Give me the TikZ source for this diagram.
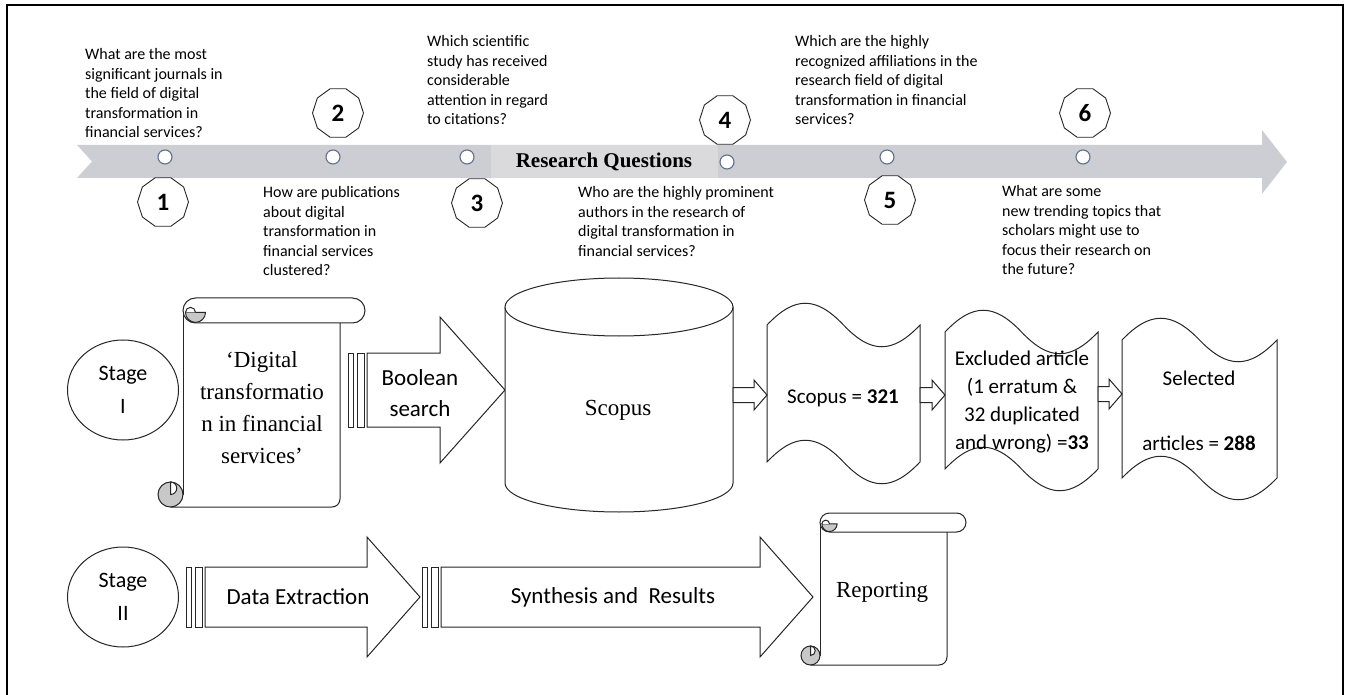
\documentclass[tikz,border=0pt]{standalone}
\usepackage{fontspec}
\setmainfont{Liberation Serif}
\newfontfamily\calibri{Carlito}
\usetikzlibrary{shapes.geometric,calc}

\definecolor{bandgray}{RGB}{205,206,211}
\definecolor{labelgray}{RGB}{218,218,220}
\definecolor{markerblue}{RGB}{95,112,140}
\definecolor{curlgray}{RGB}{200,200,200}

% block arrow between two named points
\newcommand{\fatarrow}[2]{%
  \draw[outline, fill=white] let \p1=(#1), \p2=(#2) in
    (\x1,\y1+7.5pt) -- (\x2-13pt,\y1+7.5pt) -- (\x2-13pt,\y1+15pt) -- (\x2,\y1) --
    (\x2-13pt,\y1-15pt) -- (\x2-13pt,\y1-7.5pt) -- (\x1,\y1-7.5pt) -- cycle;}

% striped arrow: x0, head base, tip, centre y, shaft half, head half
\newcommand{\stripedarrow}[6]{%
  \draw[outline, fill=white] (#1,#4-#5) rectangle (#1+5,#4+#5);
  \draw[outline, fill=white] (#1+9,#4-#5) rectangle (#1+16,#4+#5);
  \draw[outline, fill=white] (#1+19,#4-#5) -- (#2,#4-#5) -- (#2,#4-#6) -- (#3,#4)
    -- (#2,#4+#6) -- (#2,#4+#5) -- (#1+19,#4+#5) -- cycle;}

% scroll: left, right, top, bottom, roll radius
\newcommand{\scrollshape}[5]{%
  \fill[white] (#1,#3+#5) rectangle (#2,#4);
  \draw[outline] (#1,#3+#5) -- (#1,#4-#5);
  \draw[outline, rounded corners=8] (#1-#5,#4) -- (#2,#4) -- (#2,#3+2*#5);
  \draw[outline, fill=white] (#1+#5,#3) -- (#2+#5,#3) arc (-90:90:#5)
    -- (#1+#5,#3+2*#5) arc (90:270:#5) -- cycle;
  \draw[outline, fill=curlgray] (#1+1.8*#5,#3+1.15*#5) arc (0:180:{0.8*#5}) -- cycle;
  \draw[outline, fill=white] (#1+#5,#3+1.15*#5) arc (0:-180:{0.4*#5});
  \draw[outline, fill=curlgray] (#1-#5,#4-#5) circle (#5);
  \draw[outline, fill=white] (#1-#5,#4-2*#5) arc (-90:90:{0.5*#5}) -- cycle;}

% punched tape: left, right, top, bottom
\newcommand{\tape}[4]{%
  \draw[outline, fill=white] (#1,#3)
    .. controls ({#1+0.18*(#2-#1)},#3-29) and ({#1+0.32*(#2-#1)},#3-29) .. ({#1+0.5*(#2-#1)},#3)
    .. controls ({#1+0.68*(#2-#1)},#3+29) and ({#1+0.82*(#2-#1)},#3+29) .. (#2,#3)
    -- (#2,#4)
    .. controls ({#1+0.82*(#2-#1)},#4+29) and ({#1+0.68*(#2-#1)},#4+29) .. ({#1+0.5*(#2-#1)},#4)
    .. controls ({#1+0.32*(#2-#1)},#4-29) and ({#1+0.18*(#2-#1)},#4-29) .. (#1,#4)
    -- cycle;}

\tikzset{
  outline/.style={draw=black!85, line width=1},
  question/.style={anchor=north west, align=left, inner sep=0,
    font=\calibri\fontsize{16}{19.5}\selectfont},
  badge/.style={draw=black!85, fill=white, line width=0.9, regular polygon,
    regular polygon sides=10, minimum size=51, inner sep=0,
    font=\calibri\bfseries\fontsize{25}{25}\selectfont},
  marker/.style={circle, draw=markerblue, fill=white, line width=1.1,
    minimum size=14, inner sep=0},
  stage/.style={ellipse, draw=black!85, line width=1, minimum width=111,
    minimum height=100, inner sep=0, align=center,
    font=\calibri\fontsize{22}{33}\selectfont},
  sanslabel/.style={align=center, inner sep=0, font=\calibri\fontsize{23}{31}\selectfont},
  seriflabel/.style={align=center, inner sep=0, font=\fontsize{23}{32}\selectfont},
  tapelabel/.style={align=center, inner sep=0, font=\calibri\fontsize{21}{28}\selectfont}
}

\begin{document}
\begin{tikzpicture}[x=1pt, y=-1pt]
\useasboundingbox (0,0) rectangle (1345,695);
\draw[line width=2.5] (7,697) -- (7,5) -- (1343,5) -- (1343,697);

% timeline
\fill[bandgray] (77,145) -- (1262,145) -- (1262,130) -- (1287,162) -- (1262,194)
  -- (1262,178) -- (77,178) -- (92,161.5) -- cycle;
\node[fill=labelgray, minimum width=227, minimum height=33, inner sep=0,
  font=\bfseries\fontsize{21}{21}\selectfont] (rq) at (604,161.5) {Research Questions};

\node[marker] (m1) at (165,157) {};
\node[marker] (m2) at (333,157) {};
\node[marker] (m3) at (467,157) {};
\node[marker] (m4) at (727,162) {};
\node[marker] (m5) at (887,157) {};
\node[marker] (m6) at (1083,157) {};

\node[badge] (b1) at (163,202) {1};
\node[badge] (b2) at (338,113) {2};
\node[badge] (b3) at (477,203) {3};
\node[badge] (b4) at (725,120) {4};
\node[badge] (b5) at (890,200) {5};
\node[badge] (b6) at (1085,113) {6};

\node[question] (q1) at (85,48.5) {What are the most\\significant journals in\\the field of digital\\transformation in\\financial services?};
\node[question] (q2) at (263,186.5) {How are publications\\about digital\\transformation in\\financial services\\clustered?};
\node[question] (q3) at (427,35.5) {Which scientific\\study has received\\considerable\\attention in regard\\to citations?};
\node[question] (q4) at (578,186.5) {Who are the highly prominent\\authors in the research of\\digital transformation in\\financial services?};
\node[question] (q5) at (795,35.5) {Which are the highly\\recognized affiliations in the\\research field of digital\\transformation in financial\\services?};
\node[question] (q6) at (1002,185.5) {What are some\\new trending topics that\\scholars might use to\\focus their research on\\the future?};

% stage I
\node[stage] (st1) at (123,390) {Stage\\I};
\scrollshape{183}{340}{298}{507}{12.5}
\node[seriflabel] (query) at (262,408) {‘Digital\\transformatio\\n in financial\\services’};
\stripedarrow{348}{440}{505}{390}{37}{73}
\node[sanslabel] (bool) at (420,393) {Boolean\\search};

\draw[outline, fill=white] (505,307) -- (505,483) arc (180:0:114 and 29) -- (733,307);
\draw[outline, fill=white] (619,307) ellipse (114 and 29);
\node[seriflabel] (db) at (618,410) {Scopus};

\tape{767}{920}{325}{462}
\tape{945}{1098}{332}{469}
\tape{1122}{1277}{340}{478}
\node[tapelabel] (found) at (843,398) {Scopus = \textbf{321}};
\node[tapelabel] (excl) at (1022,402) {Excluded article\\(1 erratum \&\\32 duplicated\\and wrong) =\textbf{33}};
\node[tapelabel] (sel) at (1199,410.5) {Selected\\[37pt]articles = \textbf{288}};

\coordinate (cylE) at (733,395);
\coordinate (t1W) at (767,395);
\coordinate (t1E) at (920,395);
\coordinate (t2W) at (945,395);
\coordinate (t2E) at (1098,394);
\coordinate (t3W) at (1122,394);
\fatarrow{cylE}{t1W}
\fatarrow{t1E}{t2W}
\fatarrow{t2E}{t3W}

% stage II
\node[stage] (st2) at (123,597) {Stage\\II};
\stripedarrow{186}{367}{420}{597}{30}{60}
\node[sanslabel] (extract) at (298,597) {Data Extraction};
\stripedarrow{422}{760}{813}{597}{30}{60}
\node[sanslabel] (synth) at (613,597) {Synthesis and\ \ Results};
\scrollshape{820}{947}{513}{665}{9.5}
\node[seriflabel] (report) at (882,592) {Reporting};

\end{tikzpicture}
\end{document}
